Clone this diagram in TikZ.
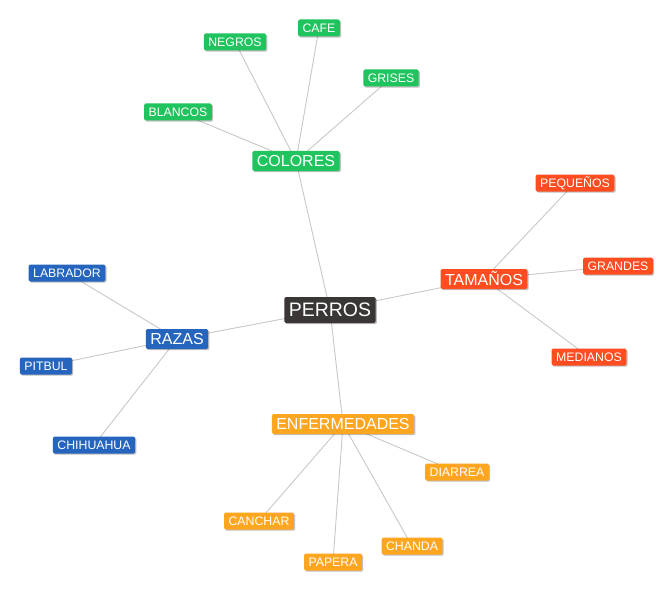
\documentclass[tikz,border=0pt]{standalone}
\usepackage{fontspec}
\setmainfont{Liberation Sans}
\usetikzlibrary{shadows}
\pgfdeclarelayer{paper}
\pgfdeclarelayer{bg}
\pgfsetlayers{paper,bg,main}
\definecolor{cgreen}{RGB}{32,196,94}
\definecolor{cred}{RGB}{255,76,32}
\definecolor{cblue}{RGB}{38,101,190}
\definecolor{corange}{RGB}{255,166,32}
\definecolor{cdark}{RGB}{58,54,54}
\definecolor{cedge}{RGB}{200,200,200}
\tikzset{
  box/.style={rectangle, rounded corners=1.5pt, text=white, inner xsep=4.5pt, inner ysep=0pt,
    drop shadow={shadow xshift=1.2pt, shadow yshift=-1.2pt, opacity=0.25, fill=black}},
  leaf/.style={box, font=\fontsize{12.3}{12}\selectfont, minimum height=17pt},
  mid/.style={box, font=\fontsize{16}{16}\selectfont, minimum height=20pt},
  root/.style={box, fill=cdark, font=\fontsize{19.5}{20}\selectfont, minimum height=26pt},
  gbox/.style={fill=cgreen}, rbox/.style={fill=cred}, bbox/.style={fill=cblue}, obox/.style={fill=corange},
  edge/.style={draw=cedge, line width=0.9pt}
}
\begin{document}
\begin{tikzpicture}[x=1pt,y=1pt]
\useasboundingbox (0,0) rectangle (672,-591);
\begin{pgfonlayer}{paper}
\fill[white] (0,0) rectangle (672,-591);
\end{pgfonlayer}
% nodes
\node[root] (perros) at (330,-310) {PERROS};
\node[mid,gbox] (colores) at (296,-161) {COLORES};
\node[leaf,gbox] (negros) at (235,-42) {NEGROS};
\node[leaf,gbox] (cafe) at (319,-28) {CAFE};
\node[leaf,gbox] (grises) at (391,-78) {GRISES};
\node[leaf,gbox] (blancos) at (178,-112) {BLANCOS};
\node[mid,rbox] (tam) at (484,-279) {TAMAÑOS};
\node[leaf,rbox] (peq) at (575,-183) {PEQUEÑOS};
\node[leaf,rbox] (gran) at (618,-266) {GRANDES};
\node[leaf,rbox] (med) at (589,-357) {MEDIANOS};
\node[mid,bbox] (razas) at (177,-339) {RAZAS};
\node[leaf,bbox] (lab) at (67,-273) {LABRADOR};
\node[leaf,bbox] (pit) at (46,-366) {PITBUL};
\node[leaf,bbox] (chi) at (94,-445) {CHIHUAHUA};
\node[mid,obox] (enf) at (343,-424) {ENFERMEDADES};
\node[leaf,obox] (dia) at (457,-472) {DIARREA};
\node[leaf,obox] (can) at (259,-521) {CANCHAR};
\node[leaf,obox] (pap) at (333,-562) {PAPERA};
\node[leaf,obox] (cha) at (412,-546) {CHANDA};
% edges behind
\begin{pgfonlayer}{bg}
\draw[edge] (perros.center) -- (colores.center);
\draw[edge] (perros.center) -- (tam.center);
\draw[edge] (perros.center) -- (razas.center);
\draw[edge] (perros.center) -- (enf.center);
\draw[edge] (colores.center) -- (negros.center);
\draw[edge] (colores.center) -- (cafe.center);
\draw[edge] (colores.center) -- (grises.center);
\draw[edge] (colores.center) -- (blancos.center);
\draw[edge] (tam.center) -- (peq.center);
\draw[edge] (tam.center) -- (gran.center);
\draw[edge] (tam.center) -- (med.center);
\draw[edge] (razas.center) -- (lab.center);
\draw[edge] (razas.center) -- (pit.center);
\draw[edge] (razas.center) -- (chi.center);
\draw[edge] (enf.center) -- (dia.center);
\draw[edge] (enf.center) -- (can.center);
\draw[edge] (enf.center) -- (pap.center);
\draw[edge] (enf.center) -- (cha.center);
\end{pgfonlayer}
\end{tikzpicture}
\end{document}
